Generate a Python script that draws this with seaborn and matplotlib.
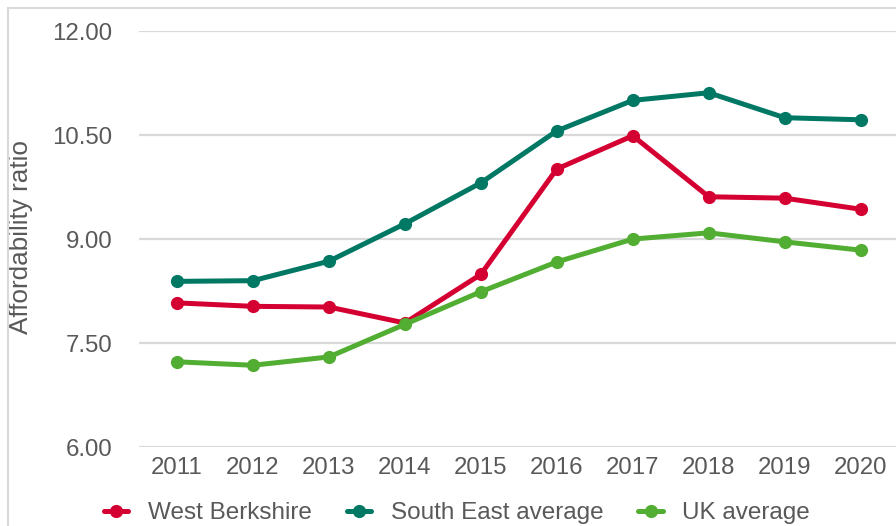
import pandas as pd
import matplotlib
matplotlib.use('Agg')
import matplotlib.pyplot as plt
import seaborn as sns
from matplotlib.patches import Rectangle

years = [2011, 2012, 2013, 2014, 2015, 2016, 2017, 2018, 2019, 2020]
west_berkshire = [8.08, 8.03, 8.02, 7.79, 8.49, 10.01, 10.49, 9.61, 9.59, 9.43]
south_east = [8.39, 8.40, 8.68, 9.22, 9.81, 10.56, 11.00, 11.11, 10.75, 10.72]
uk_average = [7.23, 7.18, 7.30, 7.77, 8.24, 8.67, 9.00, 9.09, 8.96, 8.84]
series_names = ['West Berkshire', 'South East average', 'UK average']
colours = ['#D50032', '#007864', '#52AE32']
y_ticks = [6.0, 7.5, 9.0, 10.5, 12.0]

df = pd.DataFrame({
	'Year': years * 3,
	'Ratio': west_berkshire + south_east + uk_average,
	'Series': [s for s in series_names for _ in years],
})

sns.set_theme(style='white')
plt.rcParams['font.family'] = ['Liberation Sans', 'DejaVu Sans']
grey = '#595959'

fig = plt.figure(figsize=(8.96, 5.26), dpi=100)
ax = fig.add_axes([0.155, 0.150, 0.848, 0.791])

# outer frame of the chart area
fig.patches.append(Rectangle((8 / 896, -0.1), 1.1, 1 - 8 / 526 + 0.1, transform=fig.transFigure,
	fill=False, edgecolor='#D9D9D9', linewidth=1.5))

for y in y_ticks:
	ax.axhline(y, color='#D9D9D9', linewidth=1.6, zorder=0)

sns.lineplot(data=df, x='Year', y='Ratio', hue='Series', hue_order=series_names,
	palette=colours, marker='o', markersize=9.5, markeredgewidth=0, linewidth=3.6,
	legend=False, ax=ax)

ax.set_xlim(2010.5, 2020.5)
ax.set_ylim(6, 12)
ax.set_xticks(years)
ax.set_xticklabels([str(y) for y in years])
ax.set_yticks(y_ticks)
ax.set_yticklabels(['%.2f' % y for y in y_ticks])
ax.tick_params(axis='y', length=0, pad=19, labelsize=17.3, labelcolor=grey)
ax.tick_params(axis='x', length=0, pad=7, labelsize=17.3, labelcolor=grey)
for s in ax.spines.values():
	s.set_visible(False)
ax.set_xlabel('')
ax.set_ylabel('Affordability ratio', fontsize=18.8, color=grey)
ax.yaxis.set_label_coords(-0.139, 0.505)

handles = [plt.Line2D([], [], color=c, marker='o', markersize=9.5, markeredgewidth=0, linewidth=3.6)
	for c in colours]
fig.legend(handles, series_names, loc='center', bbox_to_anchor=(0.51, 0.024), ncol=3,
	frameon=False, fontsize=17.5, labelcolor=grey, handlelength=1.0, handletextpad=0.8,
	columnspacing=1.45)

fig.savefig('out.png', dpi=100)
